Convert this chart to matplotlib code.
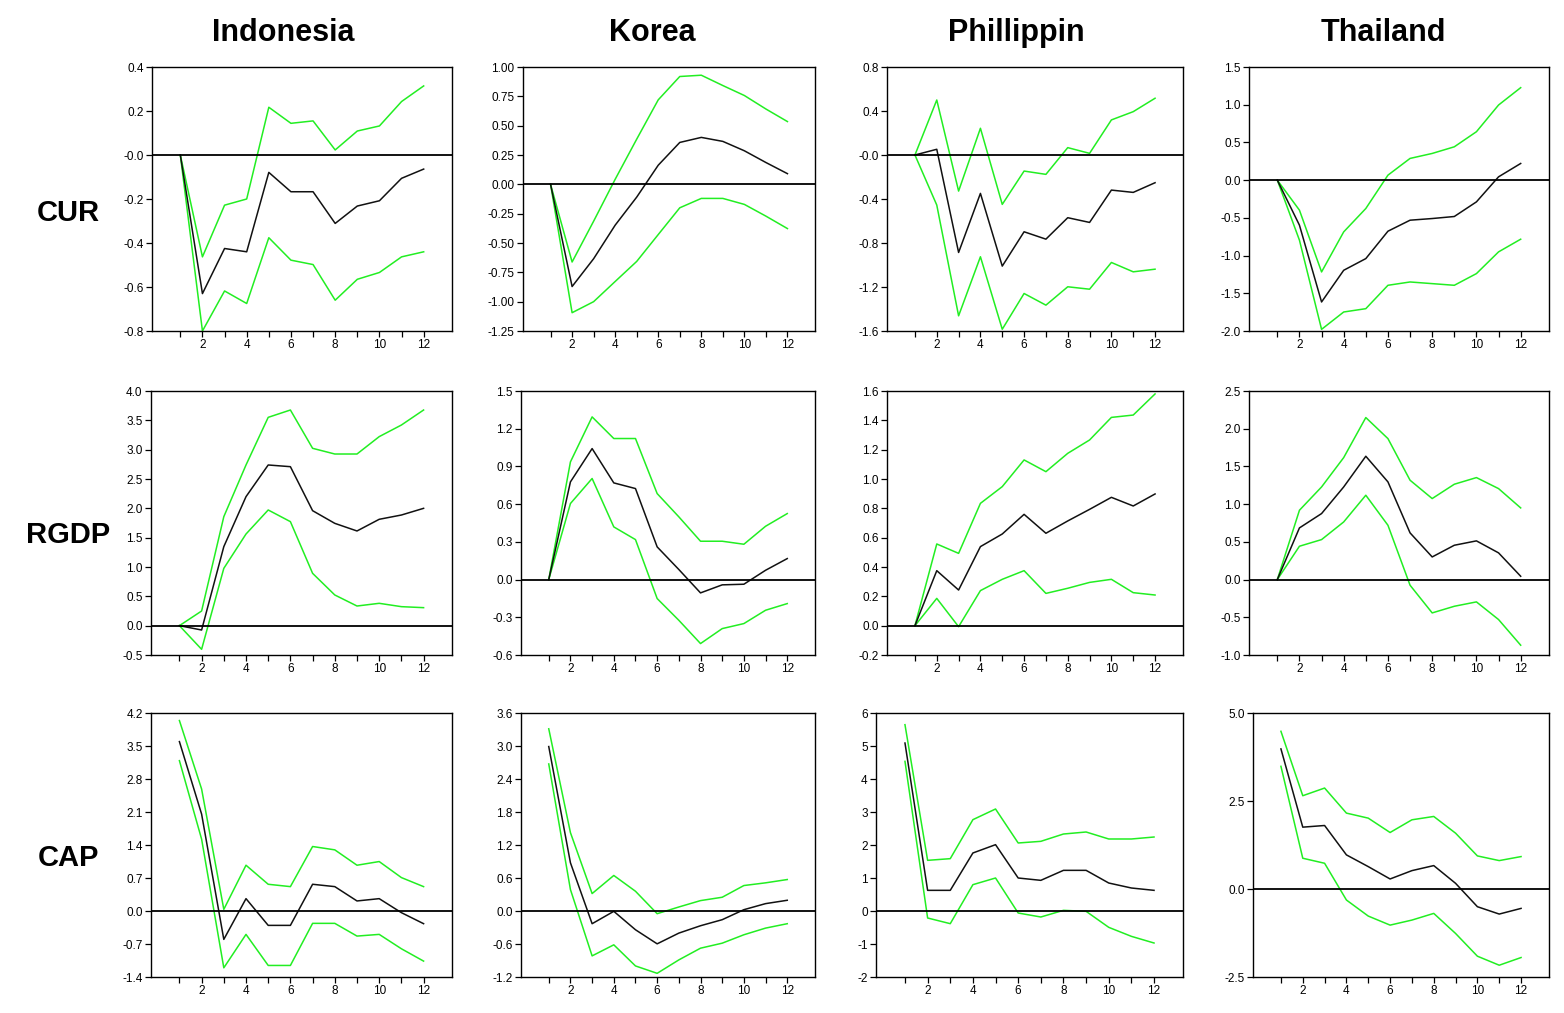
import matplotlib
matplotlib.use("Agg")
import matplotlib.pyplot as plt

plt.rcParams['font.family'] = ['Liberation Sans', 'DejaVu Sans']

countries = ["Indonesia", "Korea", "Phillippin", "Thailand"]
variables = ["CUR", "RGDP", "CAP"]
periods = list(range(1, 13))

# Impulse responses (point estimate, upper band, lower band)
# CUR
indo_cur = [0, -0.63, -0.425, -0.44, -0.079, -0.167, -0.167, -0.311, -0.232, -0.208, -0.106, -0.064]
indo_cur_hi = [0, -0.463, -0.228, -0.20, 0.217, 0.144, 0.155, 0.023, 0.109, 0.132, 0.243, 0.314]
indo_cur_lo = [0, -0.80, -0.618, -0.675, -0.376, -0.478, -0.498, -0.66, -0.565, -0.534, -0.463, -0.44]

korea_cur = [0, -0.871, -0.634, -0.348, -0.109, 0.163, 0.357, 0.40, 0.366, 0.286, 0.186, 0.091]
korea_cur_hi = [0, -0.662, -0.314, 0.043, 0.385, 0.72, 0.919, 0.93, 0.842, 0.757, 0.642, 0.535]
korea_cur_lo = [0, -1.094, -1.0, -0.828, -0.657, -0.428, -0.20, -0.12, -0.12, -0.171, -0.271, -0.377]

phil_cur = [0, 0.052, -0.886, -0.349, -1.01, -0.698, -0.765, -0.57, -0.613, -0.319, -0.34, -0.252]
phil_cur_hi = [0, 0.50, -0.328, 0.243, -0.449, -0.146, -0.176, 0.067, 0.015, 0.319, 0.394, 0.516]
phil_cur_lo = [0, -0.455, -1.462, -0.925, -1.584, -1.259, -1.365, -1.198, -1.22, -0.977, -1.062, -1.038]

thai_cur = [0, -0.597, -1.615, -1.195, -1.04, -0.677, -0.531, -0.509, -0.482, -0.288, 0.044, 0.221]
thai_cur_hi = [0, -0.398, -1.217, -0.686, -0.376, 0.066, 0.288, 0.354, 0.442, 0.642, 0.996, 1.226]
thai_cur_lo = [0, -0.796, -1.978, -1.748, -1.704, -1.394, -1.35, -1.372, -1.394, -1.239, -0.951, -0.783]

# RGDP
indo_rgdp = [0, -0.074, 1.347, 2.199, 2.739, 2.71, 1.96, 1.744, 1.614, 1.813, 1.886, 2.0]
indo_rgdp_hi = [0, 0.25, 1.858, 2.739, 3.551, 3.676, 3.023, 2.926, 2.926, 3.222, 3.42, 3.676]
indo_rgdp_lo = [0, -0.403, 0.977, 1.562, 1.972, 1.773, 0.892, 0.523, 0.335, 0.381, 0.324, 0.307]

korea_rgdp = [0, 0.777, 1.042, 0.769, 0.724, 0.26, 0.08, -0.106, -0.042, -0.037, 0.074, 0.167]
korea_rgdp_hi = [0, 0.936, 1.294, 1.122, 1.122, 0.684, 0.499, 0.305, 0.305, 0.281, 0.424, 0.525]
korea_rgdp_lo = [0, 0.605, 0.804, 0.419, 0.318, -0.151, -0.324, -0.509, -0.39, -0.35, -0.244, -0.191]

phil_rgdp = [0, 0.375, 0.243, 0.539, 0.625, 0.759, 0.63, 0.714, 0.793, 0.875, 0.816, 0.898]
phil_rgdp_hi = [0, 0.557, 0.493, 0.834, 0.948, 1.13, 1.05, 1.175, 1.266, 1.42, 1.436, 1.58]
phil_rgdp_lo = [0, 0.186, -0.007, 0.239, 0.316, 0.375, 0.22, 0.255, 0.295, 0.316, 0.225, 0.209]

thai_rgdp = [0, 0.685, 0.875, 1.228, 1.635, 1.295, 0.619, 0.30, 0.455, 0.513, 0.354, 0.044]
thai_rgdp_hi = [0, 0.919, 1.228, 1.617, 2.148, 1.869, 1.317, 1.074, 1.264, 1.352, 1.206, 0.95]
thai_rgdp_lo = [0, 0.442, 0.53, 0.764, 1.118, 0.72, -0.075, -0.442, -0.354, -0.296, -0.53, -0.87]

# CAP
indo_cap = [3.593, 2.055, -0.602, 0.262, -0.305, -0.305, 0.567, 0.517, 0.213, 0.262, -0.035, -0.269]
indo_cap_hi = [4.04, 2.587, 0.035, 0.971, 0.567, 0.517, 1.368, 1.297, 0.971, 1.049, 0.709, 0.517]
indo_cap_lo = [3.189, 1.524, -1.205, -0.496, -1.155, -1.155, -0.262, -0.262, -0.532, -0.496, -0.801, -1.063]

korea_cap = [2.99, 0.877, -0.231, -0.006, -0.341, -0.597, -0.402, -0.268, -0.158, 0.024, 0.134, 0.195]
korea_cap_hi = [3.313, 1.425, 0.317, 0.646, 0.359, -0.049, 0.073, 0.189, 0.25, 0.463, 0.512, 0.572]
korea_cap_lo = [2.674, 0.39, -0.816, -0.615, -0.999, -1.133, -0.889, -0.676, -0.585, -0.432, -0.311, -0.231]

phil_cap = [5.09, 0.626, 0.626, 1.758, 2.01, 1.0, 0.929, 1.232, 1.232, 0.848, 0.697, 0.626]
phil_cap_hi = [5.646, 1.535, 1.586, 2.768, 3.091, 2.061, 2.111, 2.333, 2.394, 2.182, 2.182, 2.242]
phil_cap_lo = [4.535, -0.212, -0.384, 0.798, 1.0, -0.061, -0.182, 0.02, -0.01, -0.495, -0.768, -0.97]

thai_cap = [3.98, 1.757, 1.804, 0.969, 0.636, 0.285, 0.522, 0.665, 0.161, -0.503, -0.712, -0.551]
thai_cap_hi = [4.48, 2.65, 2.868, 2.156, 2.013, 1.605, 1.966, 2.061, 1.586, 0.94, 0.807, 0.921]
thai_cap_lo = [3.485, 0.874, 0.731, -0.313, -0.769, -1.026, -0.883, -0.693, -1.263, -1.909, -2.165, -1.947]

# Y-axis tick values and labels for each panel (row-major)
yticks = [
    [0.4, 0.2, 0.0, -0.2, -0.4, -0.6, -0.8],
    [1.0, 0.75, 0.5, 0.25, 0.0, -0.25, -0.5, -0.75, -1.0, -1.25],
    [0.8, 0.4, 0.0, -0.4, -0.8, -1.2, -1.6],
    [1.5, 1.0, 0.5, 0.0, -0.5, -1.0, -1.5, -2.0],
    [4.0, 3.5, 3.0, 2.5, 2.0, 1.5, 1.0, 0.5, 0.0, -0.5],
    [1.5, 1.2, 0.9, 0.6, 0.3, 0.0, -0.3, -0.6],
    [1.6, 1.4, 1.2, 1.0, 0.8, 0.6, 0.4, 0.2, 0.0, -0.2],
    [2.5, 2.0, 1.5, 1.0, 0.5, 0.0, -0.5, -1.0],
    [4.2, 3.5, 2.8, 2.1, 1.4, 0.7, 0.0, -0.7, -1.4],
    [3.6, 3.0, 2.4, 1.8, 1.2, 0.6, 0.0, -0.6, -1.2],
    [6, 5, 4, 3, 2, 1, 0, -1, -2],
    [5.0, 2.5, 0.0, -2.5],
]
ylabels = [
    ["0.4", "0.2", "-0.0", "-0.2", "-0.4", "-0.6", "-0.8"],
    ["1.00", "0.75", "0.50", "0.25", "0.00", "-0.25", "-0.50", "-0.75", "-1.00", "-1.25"],
    ["0.8", "0.4", "-0.0", "-0.4", "-0.8", "-1.2", "-1.6"],
    ["1.5", "1.0", "0.5", "0.0", "-0.5", "-1.0", "-1.5", "-2.0"],
    ["4.0", "3.5", "3.0", "2.5", "2.0", "1.5", "1.0", "0.5", "0.0", "-0.5"],
    ["1.5", "1.2", "0.9", "0.6", "0.3", "0.0", "-0.3", "-0.6"],
    ["1.6", "1.4", "1.2", "1.0", "0.8", "0.6", "0.4", "0.2", "0.0", "-0.2"],
    ["2.5", "2.0", "1.5", "1.0", "0.5", "0.0", "-0.5", "-1.0"],
    ["4.2", "3.5", "2.8", "2.1", "1.4", "0.7", "0.0", "-0.7", "-1.4"],
    ["3.6", "3.0", "2.4", "1.8", "1.2", "0.6", "0.0", "-0.6", "-1.2"],
    ["6", "5", "4", "3", "2", "1", "0", "-1", "-2"],
    ["5.0", "2.5", "0.0", "-2.5"],
]

series = [
    (indo_cur, indo_cur_hi, indo_cur_lo), (korea_cur, korea_cur_hi, korea_cur_lo),
    (phil_cur, phil_cur_hi, phil_cur_lo), (thai_cur, thai_cur_hi, thai_cur_lo),
    (indo_rgdp, indo_rgdp_hi, indo_rgdp_lo), (korea_rgdp, korea_rgdp_hi, korea_rgdp_lo),
    (phil_rgdp, phil_rgdp_hi, phil_rgdp_lo), (thai_rgdp, thai_rgdp_hi, thai_rgdp_lo),
    (indo_cap, indo_cap_hi, indo_cap_lo), (korea_cap, korea_cap_hi, korea_cap_lo),
    (phil_cap, phil_cap_hi, phil_cap_lo), (thai_cap, thai_cap_hi, thai_cap_lo),
]

W, H = 1564, 1013
fig = plt.figure(figsize=(W / 100, H / 100), dpi=100)
fig.patch.set_facecolor("white")

# panel frames in pixels: left edges per panel, right edges per column, top/bottom per row
lefts = [152, 523, 887, 1249,
         151, 521, 887, 1249,
         151, 521, 876, 1253]
rights = [452, 815, 1183, 1549]
tops = [67, 391, 713]
bottoms = [331, 655, 977]

GREEN = "#22ee22"

for i, (mid, hi, lo) in enumerate(series):
    r, c = divmod(i, 4)
    l, rt = lefts[i], rights[c]
    t, b = tops[r], bottoms[r]
    ax = fig.add_axes([l / W, 1 - b / H, (rt - l) / W, (b - t) / H])
    ax.plot(periods, hi, color=GREEN, lw=1.1)
    ax.plot(periods, lo, color=GREEN, lw=1.1)
    ax.plot(periods, mid, color="#111111", lw=1.1)
    ax.axhline(0, color="black", lw=1.3)
    ax.set_xlim(1 - 1.28, 12 + 1.28)
    ax.set_ylim(min(yticks[i]), max(yticks[i]))
    ax.set_yticks(yticks[i])
    ax.set_yticklabels(ylabels[i])
    ax.set_xticks(periods)
    ax.set_xticklabels([str(p) if p % 2 == 0 else "" for p in periods])
    ax.tick_params(direction="out", length=4, width=0.9, labelsize=8.5, pad=2,
                   colors="black")
    for s in ax.spines.values():
        s.set_linewidth(1.0)

title_x = [283, 652, 1016, 1383]
for name, x in zip(countries, title_x):
    fig.text(x / W, 1 - 33 / H, name, ha="center", va="center",
             fontsize=22, fontweight="bold")

label_y = [213, 535, 858]
for name, y in zip(variables, label_y):
    fig.text(68 / W, 1 - y / H, name, ha="center", va="center",
             fontsize=21, fontweight="bold")

fig.savefig("out.png", dpi=100)
